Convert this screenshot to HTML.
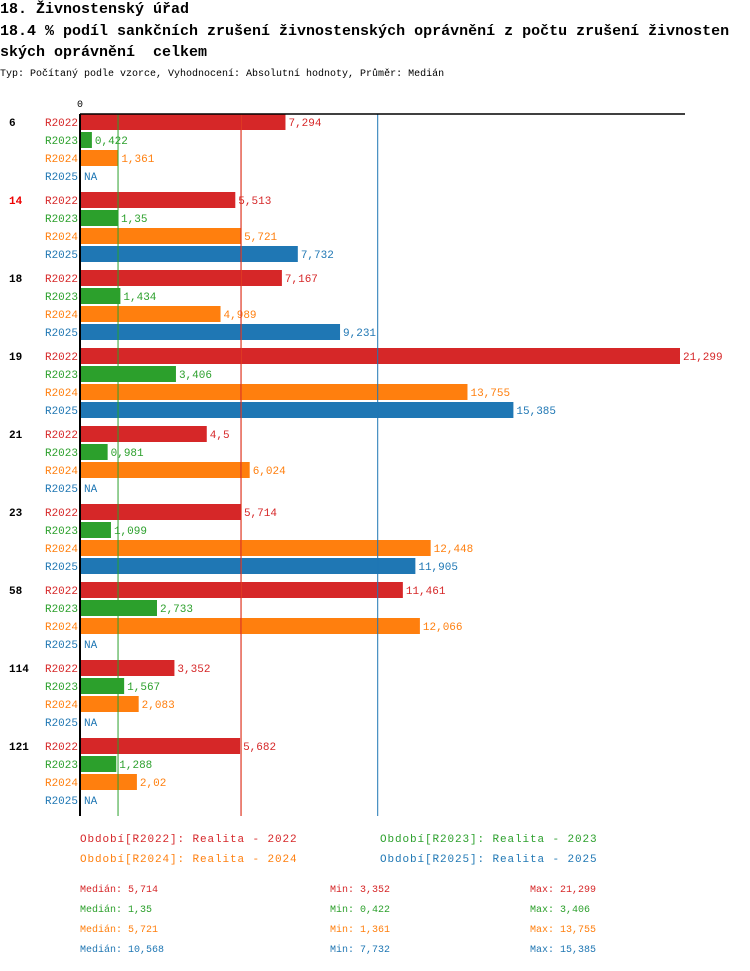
<!DOCTYPE html>
<html><head><meta charset="utf-8"><style>
body{margin:0;background:#fff;font-family:"Liberation Mono",monospace;}
svg text{font-family:"Liberation Mono",monospace;}
</style></head><body>
<svg id="c" width="750" height="966" xmlns="http://www.w3.org/2000/svg">
<text x="0" y="13" font-size="15" font-weight="bold">18. Živnostenský úřad</text>
<text x="0" y="35" font-size="15" font-weight="bold">18.4 % podíl sankčních zrušení živnostenských oprávnění z počtu zrušení živnosten</text>
<text x="0" y="56" font-size="15" font-weight="bold" xml:space="preserve">ských oprávnění  celkem</text>
<text x="0" y="76" font-size="10">Typ: Počítaný podle vzorce, Vyhodnocení: Absolutní hodnoty, Průměr: Medián</text>
<g id="plot"></g>
</svg>
<script>
const groups=["6","14","18","19","21","23","58","114","121"];
const series=["R2022","R2023","R2024","R2025"];
const colors=["#d62728","#2ca02c","#ff7f0e","#1f77b4"];
const v2022=[7.294,5.513,7.167,21.299,4.5,5.714,11.461,3.352,5.682];
const v2023=[0.422,1.35,1.434,3.406,0.981,1.099,2.733,1.567,1.288];
const v2024=[1.361,5.721,4.989,13.755,6.024,12.448,12.066,2.083,2.02];
const v2025=[null,7.732,9.231,15.385,null,11.905,null,null,null];
const medians=[5.714,1.35,5.721,10.568];
const mins=[3.352,0.422,1.361,7.732];
const maxs=[21.299,3.406,13.755,15.385];
const legendLabels=["Období[R2022]: Realita - 2022","Období[R2023]: Realita - 2023","Období[R2024]: Realita - 2024","Období[R2025]: Realita - 2025"];
const vals=[v2022,v2023,v2024,v2025];
const NS="http://www.w3.org/2000/svg";
const g=document.getElementById('plot');
const x0=80,scale=600/21.299;
const xs=v=>x0+v*scale;
const plotTop=114,gstride=78,rstride=18;
const fmt=v=>String(v).replace('.',',');
function el(t,a,txt){const e=document.createElementNS(NS,t);for(const k in a)e.setAttribute(k,a[k]);if(txt!=null)e.textContent=txt;g.appendChild(e);return e;}
groups.forEach((gr,i)=>{
  const gy=plotTop+i*gstride;
  const gl=el('text',{x:9,y:gy+12,'font-size':11,'font-weight':'bold',fill:gr==="14"?"#e00":"#000"},gr);
  
  
  series.forEach((s,j)=>{
    const cy=gy+8+j*rstride;
    const sl=el('text',{x:78,y:cy+4,'font-size':11,'text-anchor':'end',fill:colors[j]},s);
    
    
    const v=vals[j][i];
    if(v==null){
      const na=el('text',{x:84,y:cy+4,'font-size':11,fill:colors[j]},'NA');
      
      
    }else{
      const r=el('rect',{x:x0,y:cy-8,width:xs(v)-x0,height:16,fill:colors[j]});
      
      
      const t=el('text',{x:xs(v)+3,y:cy+4,'font-size':11,fill:colors[j]},fmt(v));
      
      
    }
  });
});
const bottom=816;
[[3,medians[3]],[1,medians[1]],[2,medians[2]],[0,medians[0]]].forEach(([j,m])=>{
  const l=el('line',{x1:xs(m),x2:xs(m),y1:plotTop,y2:bottom,stroke:colors[j],'stroke-width':1});
  
  
});
const ax=el('line',{x1:x0,x2:685,y1:plotTop,y2:plotTop,stroke:'#000','stroke-width':1.5});


const ay=el('line',{x1:x0,x2:x0,y1:plotTop,y2:bottom,stroke:'#000','stroke-width':2});


const z=el('text',{x:x0,y:107,'font-size':10,'text-anchor':'middle'},'0');


legendLabels.forEach((lb,j)=>{
  const t=el('text',{x:j%2?380:80,y:842+Math.floor(j/2)*20,'font-size':11,'letter-spacing':0.9,fill:colors[j]},lb);
  
  
});
series.forEach((s,j)=>{
  const y=892+j*20;
  const a=el('text',{x:80,y:y,'font-size':10,fill:colors[j]},'Medián: '+fmt(medians[j]));
  
  
  const b=el('text',{x:330,y:y,'font-size':10,fill:colors[j]},'Min: '+fmt(mins[j]));
  
  
  const c=el('text',{x:530,y:y,'font-size':10,fill:colors[j]},'Max: '+fmt(maxs[j]));
  
  
});
</script>
</body></html>
